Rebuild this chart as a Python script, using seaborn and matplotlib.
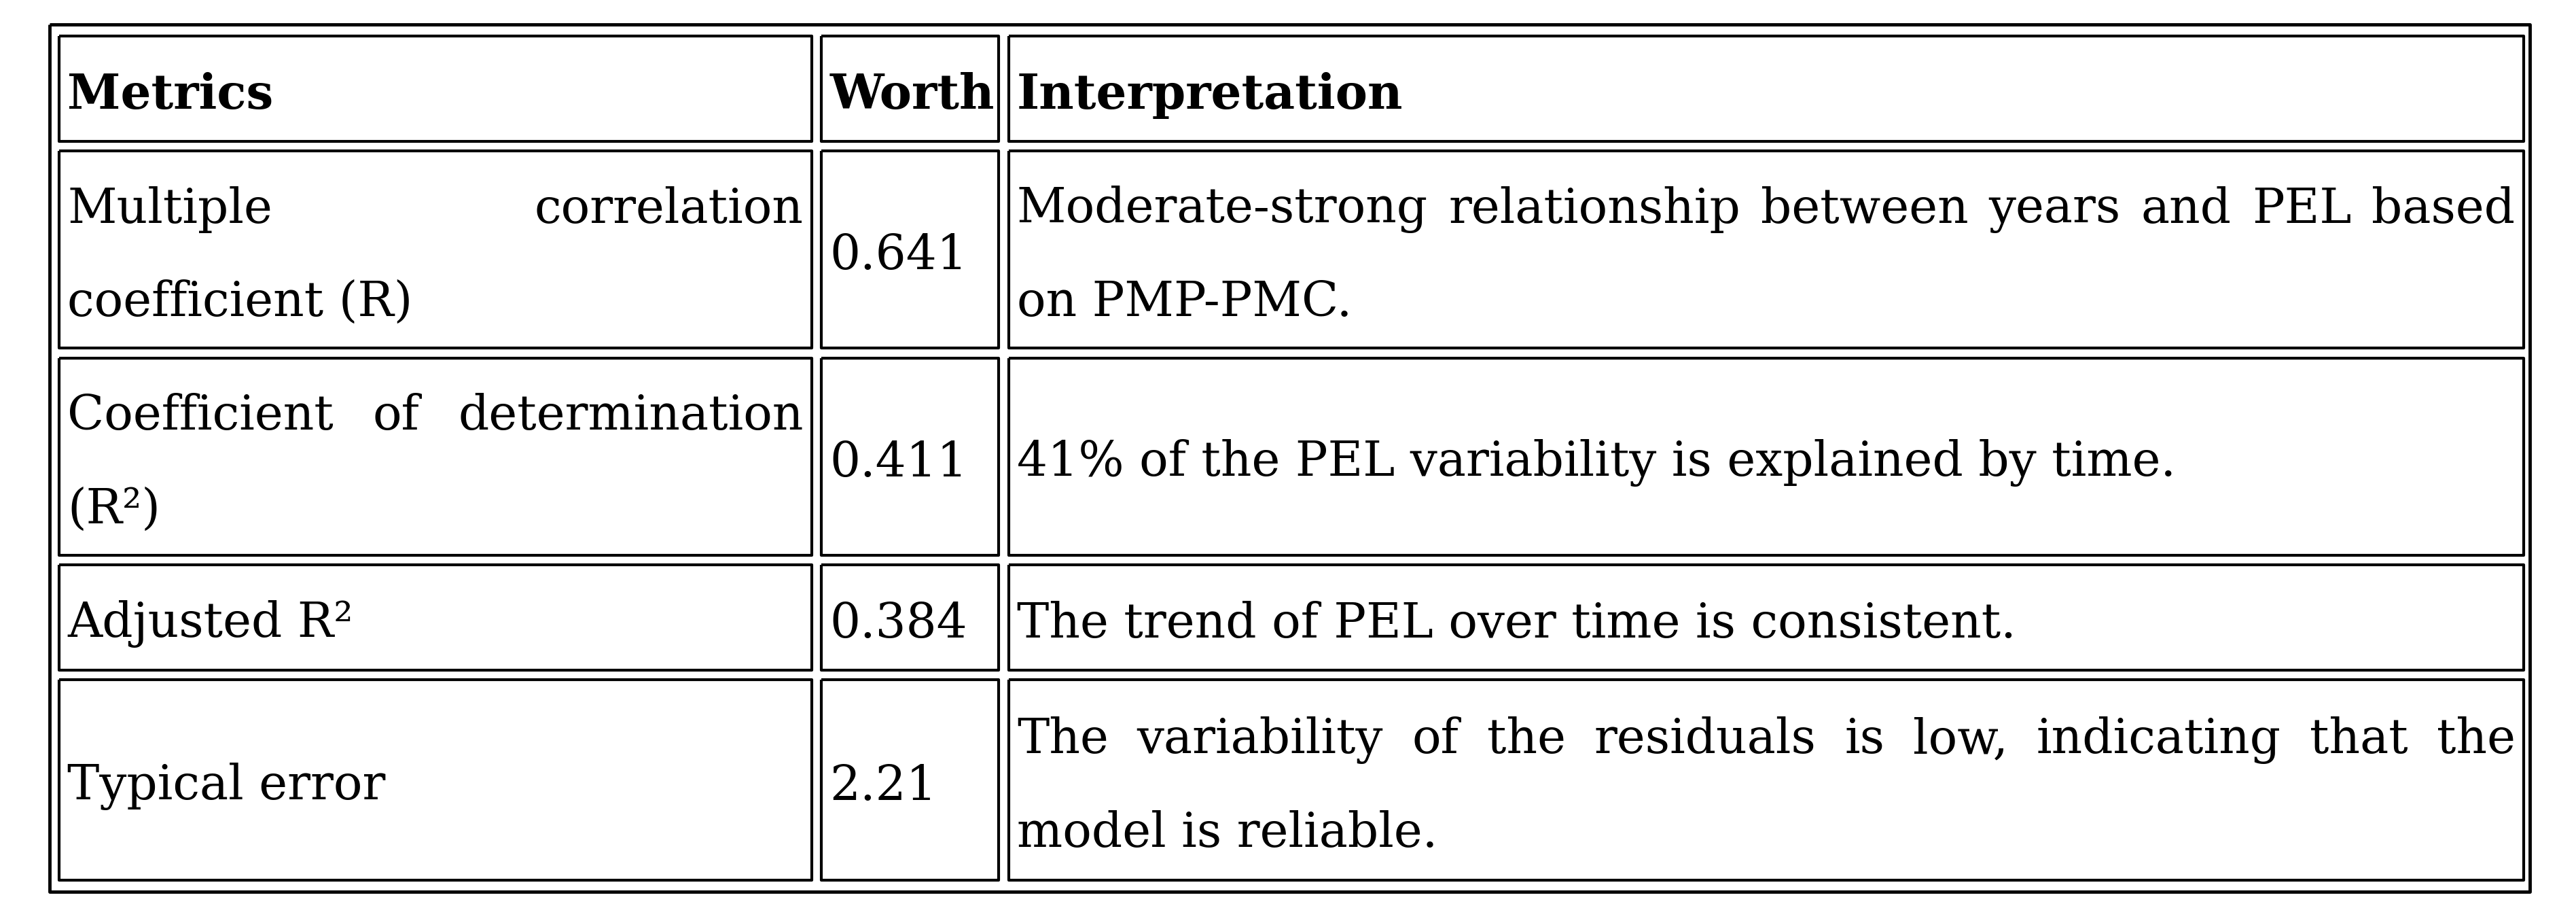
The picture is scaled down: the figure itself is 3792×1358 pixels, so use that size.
import matplotlib
matplotlib.use("Agg")
import matplotlib.pyplot as plt
import seaborn as sns

sns.set_theme(style="white")
plt.rcParams['font.family'] = ['DejaVu Serif']

headers = ["Metrics", "Worth", "Interpretation"]
metrics = [["Multiple correlation", "coefficient (R)"],
           ["Coefficient of determination", "(R²)"],
           ["Adjusted R²"],
           ["Typical error"]]
worth = ["0.641", "0.411", "0.384", "2.21"]
interpretation = [["Moderate-strong relationship between years and PEL based", "on PMP-PMC."],
                  ["41% of the PEL variability is explained by time."],
                  ["The trend of PEL over time is consistent."],
                  ["The variability of the residuals is low, indicating that the", "model is reliable."]]

W, H = 1568, 562
fig = plt.figure(figsize=(37.92, 13.58), dpi=100)
ax = fig.add_axes([0, 0, 1, 1])
ax.set_xlim(0, W); ax.set_ylim(H, 0); ax.axis("off")

cols = [(36, 494), (500, 608), (614, 1536)]
rows = [(22, 86), (92, 212), (218, 338), (344, 408), (414, 536)]
FS = 51
LS = 57
DY = 4
pad = 5

def rect(x0, y0, x1, y1, lw=3):
    ax.plot([x0, x1, x1, x0, x0], [y0, y0, y1, y1, y0], color="black", lw=lw, solid_capstyle="butt")

rect(30, 15, 1540, 543, 3.5)
for (y0, y1) in rows:
    for (x0, x1) in cols:
        rect(x0, y0, x1, y1)

fig.canvas.draw()
r = fig.canvas.get_renderer()

def width(t):
    bb = t.get_window_extent(renderer=r)
    inv = ax.transData.inverted()
    a = inv.transform((bb.x0, bb.y0)); b = inv.transform((bb.x1, bb.y0))
    return b[0] - a[0]

def cell(lines, ci, ri, bold=False):
    x0, x1 = cols[ci]; y0, y1 = rows[ri]
    yc = (y0 + y1) / 2 + DY
    n = len(lines)
    for k, line in enumerate(lines):
        y = yc + (k - (n - 1) / 2) * LS
        kw = dict(fontsize=FS, va="center", ha="left", color="black",
                  fontweight="bold" if bold else "normal")
        words = line.split()
        if k < n - 1 and len(words) > 1:
            ts = [ax.text(0, y, w, **kw) for w in words]
            ws = [width(t) for t in ts]
            gap = ((x1 - x0 - 2 * pad) - sum(ws)) / (len(words) - 1)
            x = x0 + pad
            for t, w in zip(ts, ws):
                t.set_x(x); x += w + gap
        else:
            ax.text(x0 + pad, y, line, **kw)

for ci, h in enumerate(headers):
    cell([h], ci, 0, bold=True)
for i in range(4):
    cell(metrics[i], 0, i + 1)
    cell([worth[i]], 1, i + 1)
    cell(interpretation[i], 2, i + 1)

fig.savefig("out.png", dpi=100, facecolor="white")
